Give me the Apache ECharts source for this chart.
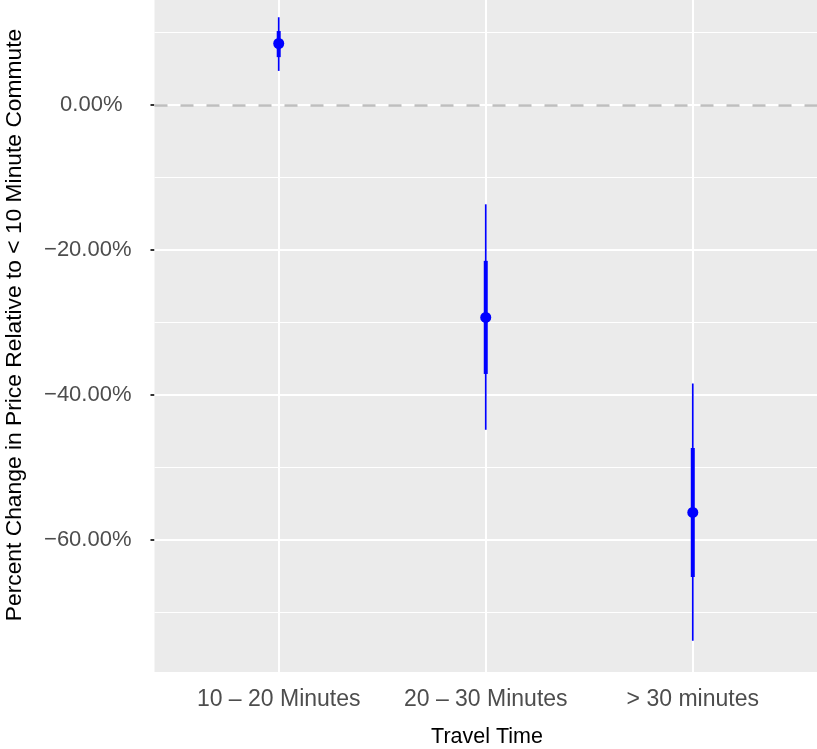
<!DOCTYPE html>
<html>
<head>
<meta charset="utf-8">
<script src="https://cdn.jsdelivr.net/npm/echarts@6/dist/echarts.min.js"></script>
<style>
    html, body { margin: 0; padding: 0; background: #ffffff; }
    #chart { width: 817px; height: 749px; }
</style>
</head>
<body>
<div id="chart"></div>
<script>
// Travel time groups, positioned at 1, 2, 3 on the x axis
const categories = ['10 \u2013 20 Minutes', '20 \u2013 30 Minutes', '> 30 minutes'];
const positions = [1, 2, 3];

// Point estimates and intervals (percent)
const estimates = [8.48, -29.3, -56.2];
const lower95 = [4.7, -44.8, -73.9];
const upper95 = [12.1, -13.7, -38.4];
const lower68 = [6.6, -37.1, -65.1];
const upper68 = [10.2, -21.5, -47.3];

// Axis ticks / grid lines
const yTicks = [0, -20, -40, -60];
const yMinor = [10, -10, -30, -50, -70];

const FONT = 'Liberation Sans, Arial, Helvetica, sans-serif';
const BLUE = '#0000FF';

function formatPct(v) {
    const s = Math.abs(v).toFixed(2) + '%';
    if (v < 0) return '\u2212' + s;
    return '{z|' + s + '}';
}

const chart = echarts.init(document.getElementById('chart'));

const intervalData = positions.map((x, i) => [x, lower95[i], upper95[i], lower68[i], upper68[i]]);
const pointData = positions.map((x, i) => [x, estimates[i]]);

const noLabel = { show: false };

chart.setOption({
    animation: false,
    backgroundColor: '#ffffff',
    grid: {
        left: 154.5, right: -0.5, top: 0, bottom: 77,
        show: true, backgroundColor: '#EBEBEB', borderWidth: 0
    },
    xAxis: {
        type: 'value',
        min: 0.4, max: 3.6,
        splitLine: { show: false },
        axisLine: { show: false },
        axisTick: { show: true, length: 4, customValues: positions, lineStyle: { color: '#333333', width: 2 } },
        axisLabel: {
            customValues: positions,
            margin: 16,
            color: '#4D4D4D',
            fontFamily: FONT,
            fontSize: 23,
            formatter: v => categories[Math.round(v) - 1] || ''
        }
    },
    yAxis: {
        type: 'value',
        min: -78.21, max: 14.48,
        splitLine: { show: false },
        axisLine: { show: false },
        axisTick: { show: true, length: 4, customValues: yTicks, lineStyle: { color: '#333333', width: 2 } },
        axisLabel: {
            customValues: yTicks,
            margin: 23,
            color: '#4D4D4D',
            fontFamily: FONT,
            fontSize: 22,
            formatter: formatPct,
            rich: {
                z: { color: '#4D4D4D', fontFamily: FONT, fontSize: 22, padding: [0, 9, 0, 0] }
            }
        }
    },
    graphic: [
        {
            type: 'text', x: 15, y: 325, rotation: Math.PI / 2,
            style: {
                text: 'Percent Change in Price Relative to < 10 Minute Commute',
                fill: '#000000', font: '22.8px ' + FONT, align: 'center', verticalAlign: 'middle'
            }
        },
        {
            type: 'text', x: 487, y: 737,
            style: {
                text: 'Travel Time',
                fill: '#000000', font: '21.5px ' + FONT, align: 'center', verticalAlign: 'middle'
            }
        }
    ],
    series: [
        {
            // panel grid lines
            type: 'line', data: [], z: 1, silent: true,
            markLine: {
                z: 1, silent: true, symbol: ['none', 'none'], label: noLabel, animation: false,
                data: [
                    ...yMinor.map(v => ({ yAxis: v, lineStyle: { color: '#ffffff', width: 1, type: 'solid' } })),
                    ...yTicks.map(v => ({ yAxis: v, lineStyle: { color: '#ffffff', width: 2, type: 'solid' } })),
                    ...positions.map(v => ({ xAxis: v, lineStyle: { color: '#ffffff', width: 2, type: 'solid' } }))
                ]
            }
        },
        {
            // reference line at zero
            type: 'line', data: [], z: 2, silent: true,
            markLine: {
                z: 2, silent: true, symbol: ['none', 'none'], label: noLabel, animation: false,
                data: [{ yAxis: 0, lineStyle: { color: '#BEBEBE', width: 2.5, type: [13, 13] } }]
            }
        },
        {
            type: 'custom', z: 3, silent: true,
            data: intervalData,
            renderItem: function (params, api) {
                const x = api.value(0);
                const a = api.coord([x, api.value(1)]);
                const b = api.coord([x, api.value(2)]);
                const c = api.coord([x, api.value(3)]);
                const d = api.coord([x, api.value(4)]);
                return {
                    type: 'group',
                    children: [
                        { type: 'line', shape: { x1: a[0], y1: a[1], x2: b[0], y2: b[1] }, style: { stroke: BLUE, lineWidth: 1.7 } },
                        { type: 'line', shape: { x1: c[0], y1: c[1], x2: d[0], y2: d[1] }, style: { stroke: BLUE, lineWidth: 4 } }
                    ]
                };
            }
        },
        {
            type: 'scatter', z: 4, silent: true,
            data: pointData,
            symbol: 'circle', symbolSize: 11,
            itemStyle: { color: BLUE, opacity: 1 }
        }
    ]
});
</script>
</body>
</html>
